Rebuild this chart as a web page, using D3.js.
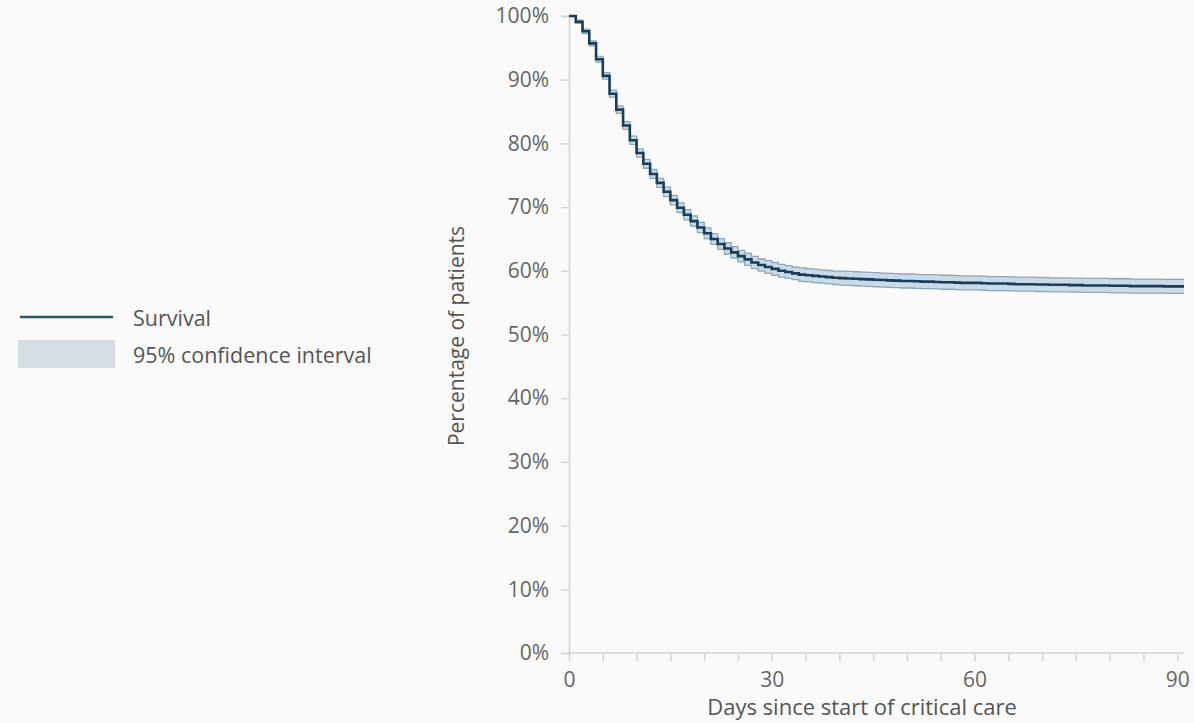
<!DOCTYPE html>
<html>
<head>
<meta charset="utf-8">
<script src="https://cdn.jsdelivr.net/npm/d3@7"></script>
<style>
  html, body { margin: 0; padding: 0; background: #fafafa; }
  svg { display: block; font-family: "Open Sans", sans-serif; }
</style>
</head>
<body>
<div id="chart"></div>
<script>
// days since start of critical care (0..91)
const days = d3.range(0, 92);
// survival % per day
const survival = [
  100, 99.1, 97.6, 95.7, 93.2, 90.6, 87.8, 85.3, 82.8, 80.5,
  78.5, 76.8, 75.2, 73.8, 72.4, 71.1, 69.9, 68.8, 67.8, 66.8,
  65.9, 65.0, 64.2, 63.5, 62.9, 62.3, 61.8, 61.3, 60.9, 60.6,
  60.3, 60.0, 59.8, 59.6, 59.4, 59.3, 59.2, 59.1, 59.0, 58.9,
  58.85, 58.8, 58.75, 58.7, 58.65, 58.6, 58.55, 58.5, 58.45, 58.4,
  58.4, 58.35, 58.3, 58.3, 58.25, 58.2, 58.2, 58.15, 58.1, 58.1,
  58.1, 58.05, 58.0, 58.0, 58.0, 57.95, 57.9, 57.9, 57.9, 57.85,
  57.85, 57.8, 57.8, 57.8, 57.75, 57.75, 57.7, 57.7, 57.7, 57.7,
  57.65, 57.65, 57.65, 57.6, 57.6, 57.6, 57.6, 57.6, 57.55, 57.55,
  57.55, 57.55
];
// 95% confidence interval, lower and upper bound
const ciLower = [
  100, 98.85, 97.25, 95.3, 92.75, 90.1, 87.25, 84.7, 82.2, 79.85,
  77.85, 76.1, 74.5, 73.1, 71.65, 70.35, 69.15, 68.0, 67.0, 66.0,
  65.05, 64.15, 63.35, 62.6, 62.0, 61.4, 60.85, 60.35, 59.95, 59.6,
  59.3, 59.0, 58.8, 58.6, 58.35, 58.25, 58.15, 58.05, 57.95, 57.85,
  57.75, 57.7, 57.65, 57.6, 57.55, 57.5, 57.45, 57.4, 57.35, 57.3,
  57.3, 57.25, 57.2, 57.2, 57.15, 57.1, 57.1, 57.05, 57.0, 57.0,
  57.0, 56.95, 56.9, 56.9, 56.9, 56.85, 56.8, 56.8, 56.8, 56.75,
  56.75, 56.7, 56.7, 56.7, 56.65, 56.65, 56.6, 56.6, 56.6, 56.6,
  56.55, 56.55, 56.55, 56.5, 56.5, 56.5, 56.5, 56.5, 56.45, 56.45,
  56.45, 56.45
];
const ciUpper = [
  100, 99.35, 97.95, 96.1, 93.65, 91.1, 88.35, 85.9, 83.4, 81.15,
  79.15, 77.5, 75.9, 74.5, 73.15, 71.85, 70.65, 69.6, 68.6, 67.6,
  66.75, 65.85, 65.05, 64.4, 63.8, 63.2, 62.75, 62.25, 61.85, 61.6,
  61.3, 61.0, 60.8, 60.6, 60.45, 60.35, 60.25, 60.15, 60.05, 59.95,
  59.95, 59.9, 59.85, 59.8, 59.75, 59.7, 59.65, 59.6, 59.55, 59.5,
  59.5, 59.45, 59.4, 59.4, 59.35, 59.3, 59.3, 59.25, 59.2, 59.2,
  59.2, 59.15, 59.1, 59.1, 59.1, 59.05, 59.0, 59.0, 59.0, 58.95,
  58.95, 58.9, 58.9, 58.9, 58.85, 58.85, 58.8, 58.8, 58.8, 58.8,
  58.75, 58.75, 58.75, 58.7, 58.7, 58.7, 58.7, 58.7, 58.65, 58.65,
  58.65, 58.65
];
const xTickLabels = [0, 30, 60, 90];
const xTicks = d3.range(0, 91, 5);
const yTicks = [0, 10, 20, 30, 40, 50, 60, 70, 80, 90, 100];
const legendItems = ["Survival", "95% confidence interval"];

const width = 1194, height = 723;

const svg = d3.select('#chart')
  .append('svg')
  .attr('width', width)
  .attr('height', height);

// scales
const x = d3.scaleLinear().domain([0, 91]).range([569, 1184]);
const y = d3.scaleLinear().domain([0, 100]).range([653, 16]);

const rows = days.map((d, i) => ({ day: d, s: survival[i], lo: ciLower[i], hi: ciUpper[i] }));

// axes
const xAxis = svg.append('g')
  .attr('transform', `translate(0,${y(0)})`)
  .call(d3.axisBottom(x).tickValues(xTicks).tickSize(8).tickPadding(11)
    .tickFormat(d => xTickLabels.includes(d) ? d : ''));
const yAxis = svg.append('g')
  .attr('transform', `translate(${x(0)},0)`)
  .call(d3.axisLeft(y).tickValues(yTicks).tickSize(8).tickPadding(12)
    .tickFormat(d => d + '%'));

[xAxis, yAxis].forEach(g => {
  g.select('.domain').attr('stroke', '#d4d4d4').attr('stroke-width', 1.5);
  g.selectAll('.tick line').attr('stroke', '#d4d4d4').attr('stroke-width', 1.5);
  g.selectAll('.tick text')
    .attr('fill', '#666')
    .style('font-size', '21px')
    .style('font-family', '"Open Sans", sans-serif');
});
xAxis.select('.domain').attr('d', `M${x(0)},0H${x(91)}`);

// confidence band
const band = d3.area()
  .curve(d3.curveStepAfter)
  .x(d => x(d.day))
  .y0(d => y(d.lo))
  .y1(d => y(d.hi));
svg.append('path')
  .datum(rows)
  .attr('d', band)
  .attr('fill', '#c9dbe8');

const edge = key => d3.line().curve(d3.curveStepAfter).x(d => x(d.day)).y(d => y(d[key]));
['lo', 'hi'].forEach(k => {
  svg.append('path')
    .datum(rows)
    .attr('d', edge(k))
    .attr('fill', 'none')
    .attr('stroke', '#93a6b8')
    .attr('stroke-width', 1.3);
});

// survival line
svg.append('path')
  .datum(rows)
  .attr('d', edge('s'))
  .attr('fill', 'none')
  .attr('stroke', '#173f5c')
  .attr('stroke-width', 2.6);

// axis titles
svg.append('text')
  .attr('x', 862).attr('y', 715)
  .attr('text-anchor', 'middle')
  .attr('fill', '#555')
  .style('font-size', '22px')
  .text('Days since start of critical care');
svg.append('text')
  .attr('transform', 'translate(464,336) rotate(-90)')
  .attr('text-anchor', 'middle')
  .attr('fill', '#555')
  .style('font-size', '21px')
  .text('Percentage of patients');

// legend
const lg = svg.append('g');
lg.append('line')
  .attr('x1', 20).attr('x2', 113).attr('y1', 317).attr('y2', 317)
  .attr('stroke', '#2e5a6c').attr('stroke-width', 2.5);
lg.append('rect')
  .attr('x', 18).attr('y', 340).attr('width', 97).attr('height', 28)
  .attr('fill', '#d5dce3');
lg.selectAll('text.leg')
  .data(legendItems)
  .enter()
  .append('text')
  .attr('class', 'leg')
  .attr('x', 133)
  .attr('y', (d, i) => 318 + i * 37)
  .attr('dy', '0.35em')
  .attr('fill', '#555')
  .style('font-size', '21.5px')
  .text(d => d);
</script>
</body>
</html>
